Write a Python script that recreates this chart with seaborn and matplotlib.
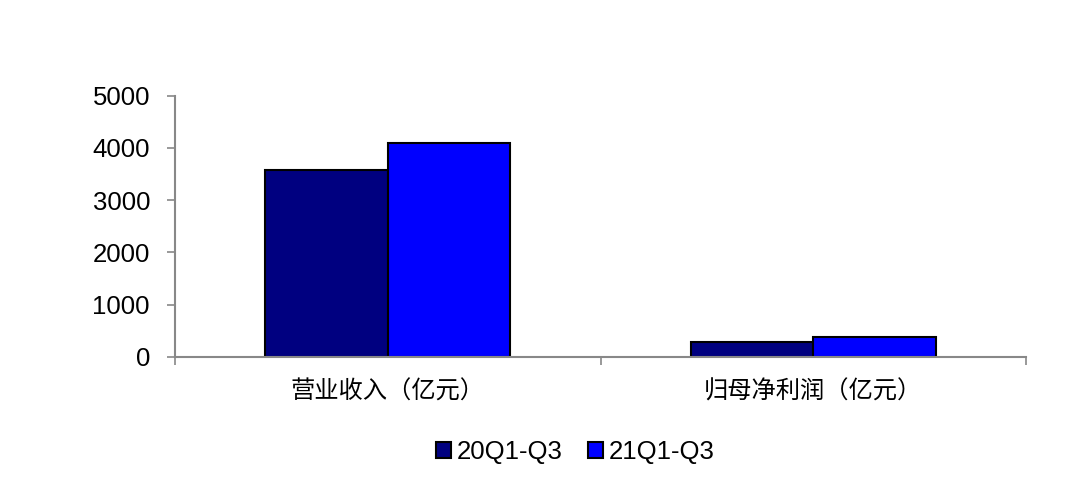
import matplotlib
matplotlib.use("Agg")
import matplotlib.pyplot as plt
import seaborn as sns
import pandas as pd

categories = ["营业收入（亿元）", "归母净利润（亿元）"]
series = ["20Q1-Q3", "21Q1-Q3"]
values_20 = [3580, 285]
values_21 = [4090, 370]
yticks = [0, 1000, 2000, 3000, 4000, 5000]
colors = ["#000080", "#0000FF"]

sns.set_style("white")
plt.rcParams["font.family"] = ["Liberation Sans", "Noto Sans CJK SC", "DejaVu Sans"]
plt.rcParams["text.color"] = "black"
plt.rcParams["xtick.labelcolor"] = "black"
plt.rcParams["ytick.labelcolor"] = "black"

df = pd.DataFrame({
    "cat": categories * 2,
    "series": [series[0]] * 2 + [series[1]] * 2,
    "value": values_20 + values_21,
})

fig = plt.figure(figsize=(10.76, 5.03), dpi=100)
ax = fig.add_axes([175 / 1076, 1 - 356.7 / 503, (1026 - 175) / 1076, (356.7 - 95.7) / 503])

sns.barplot(data=df, x="cat", y="value", hue="series", palette=colors, saturation=1,
            width=0.576, edgecolor="black", linewidth=1.5, ax=ax, legend=True)

ax.set_ylim(0, 5000)
ax.set_xlim(-0.5, 1.5)
ax.set_yticks(yticks)
ax.set_yticklabels([str(v) for v in yticks], fontsize=18.5, family=["Liberation Sans"], color="black")
ax.set_xticks([0, 1])
ax.set_xticklabels(categories, fontsize=17.5, family=["Noto Sans CJK SC"], color="black")
ax.tick_params(axis="x", length=0, pad=16)
ax.tick_params(axis="y", length=6, width=1.2, color="#888888", pad=12, left=True)
ax.set_xticks([-0.5, 0.5, 1.5], minor=True)
ax.tick_params(axis="x", which="minor", length=6, width=1.2, color="#888888", bottom=True, direction="out")
ax.set_xlabel("")
ax.set_ylabel("")
for s in ["top", "right"]:
    ax.spines[s].set_visible(False)
for s in ["left", "bottom"]:
    ax.spines[s].set_color("#888888")
    ax.spines[s].set_linewidth(1.5)

leg = ax.legend(loc="center", bbox_to_anchor=(575 / 1076, 1 - 452 / 503),
                bbox_transform=fig.transFigure, ncol=2, frameon=False,
                prop={"family": "Liberation Sans", "size": 18.5},
                handlelength=0.6, handleheight=0.6, handletextpad=0.2, columnspacing=1.0)
for t in leg.get_texts():
    t.set_color("black")

fig.savefig("out.png", dpi=100)
